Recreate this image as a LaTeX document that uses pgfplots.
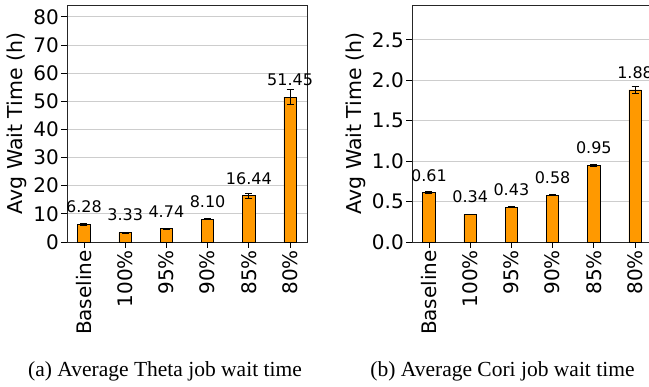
\documentclass[border=0pt]{standalone}
\usepackage{fontspec}
\setmainfont{DejaVu Sans}
\newfontfamily\capfont{Liberation Serif}
\usepackage{pgfplots}
\usepackage{pgfplotstable}
\pgfplotsset{compat=1.18}

\definecolor{barorange}{RGB}{255,153,0}
\definecolor{gridgray}{RGB}{205,205,205}

% Average wait time (h) per capping policy, with error
\pgfplotstableread{
idx val err
0 6.28 0.25
1 3.33 0.15
2 4.74 0.15
3 8.10 0.25
4 16.44 1.0
5 51.45 2.65
}\thetadata

\pgfplotstableread{
idx val err
0 0.61 0.012
1 0.34 0.004
2 0.43 0.004
3 0.58 0.006
4 0.95 0.015
5 1.88 0.042
}\coridata

\pgfplotsset{
  waitbars/.style={
    scale only axis, width=240pt, height=237pt,
    xmin=-0.41, xmax=5.41, ymin=0,
    xtick={0,...,5},
    xticklabels={Baseline,100\%,95\%,90\%,85\%,80\%},
    tick pos=left, tick align=outside,
    major tick length=6pt,
    tick style={black, line width=0.8pt},
    x tick label style={rotate=90, anchor=east, inner sep=2pt,
      font=\fontsize{20}{20}\selectfont},
    y tick label style={inner sep=2pt, font=\fontsize{20}{20}\selectfont},
    ylabel={Avg Wait Time (h)},
    ylabel style={rotate=0, anchor=center, font=\fontsize{20.5}{21}\selectfont},
    ymajorgrids, grid style={gridgray, line width=0.8pt},
    axis line style={black!85, line width=0.8pt},
    clip=false,
    /pgf/number format/assume math mode=true,
  },
  waitplot/.style={
    ybar, bar width=0.3, fill=barorange, draw=black, line width=0.8pt,
    nodes near coords={\pgfmathprintnumber[fixed,fixed zerofill,precision=2]{\pgfplotspointmeta}},
    point meta=y,
    nodes near coords style={anchor=south, inner sep=0pt, yshift=11pt,
      font=\fontsize{16}{16}\selectfont, text=black},
    error bars/.cd, y dir=both, y explicit,
    error bar style={line width=0.8pt, black},
    error mark options={rotate=90, mark size=3.5pt, line width=0.8pt, black},
  },
}

\begin{document}
\begin{tikzpicture}[x=1pt,y=1pt]
% (a) Theta
\begin{axis}[waitbars, at={(67pt,145pt)}, anchor=south west,
    ymax=84.2, ytick={0,10,...,80},
    every axis y label/.append style={at={(axis description cs:-0.208,0.5)}}]
  \addplot[waitplot] table[x=idx, y=val, y error=err] {\thetadata};
\end{axis}
% (b) Cori
\begin{axis}[waitbars, at={(412pt,145pt)}, anchor=south west,
    ymax=2.93, ytick={0,0.5,...,2.5},
    yticklabel style={/pgf/number format/.cd, fixed, fixed zerofill, precision=1},
    every axis y label/.append style={at={(axis description cs:-0.233,0.5)}}]
  \addplot[waitplot] table[x=idx, y=val, y error=err] {\coridata};
\end{axis}
\node[anchor=base, font=\capfont\fontsize{21.5}{22}\selectfont] at (165,10.3) {(a) Average Theta job wait time};
\node[anchor=base, font=\capfont\fontsize{21.5}{22}\selectfont] at (502.5,10.3) {(b) Average Cori job wait time};
\pgfresetboundingbox
\useasboundingbox (0,0) rectangle (649,387);
\end{tikzpicture}
\end{document}
